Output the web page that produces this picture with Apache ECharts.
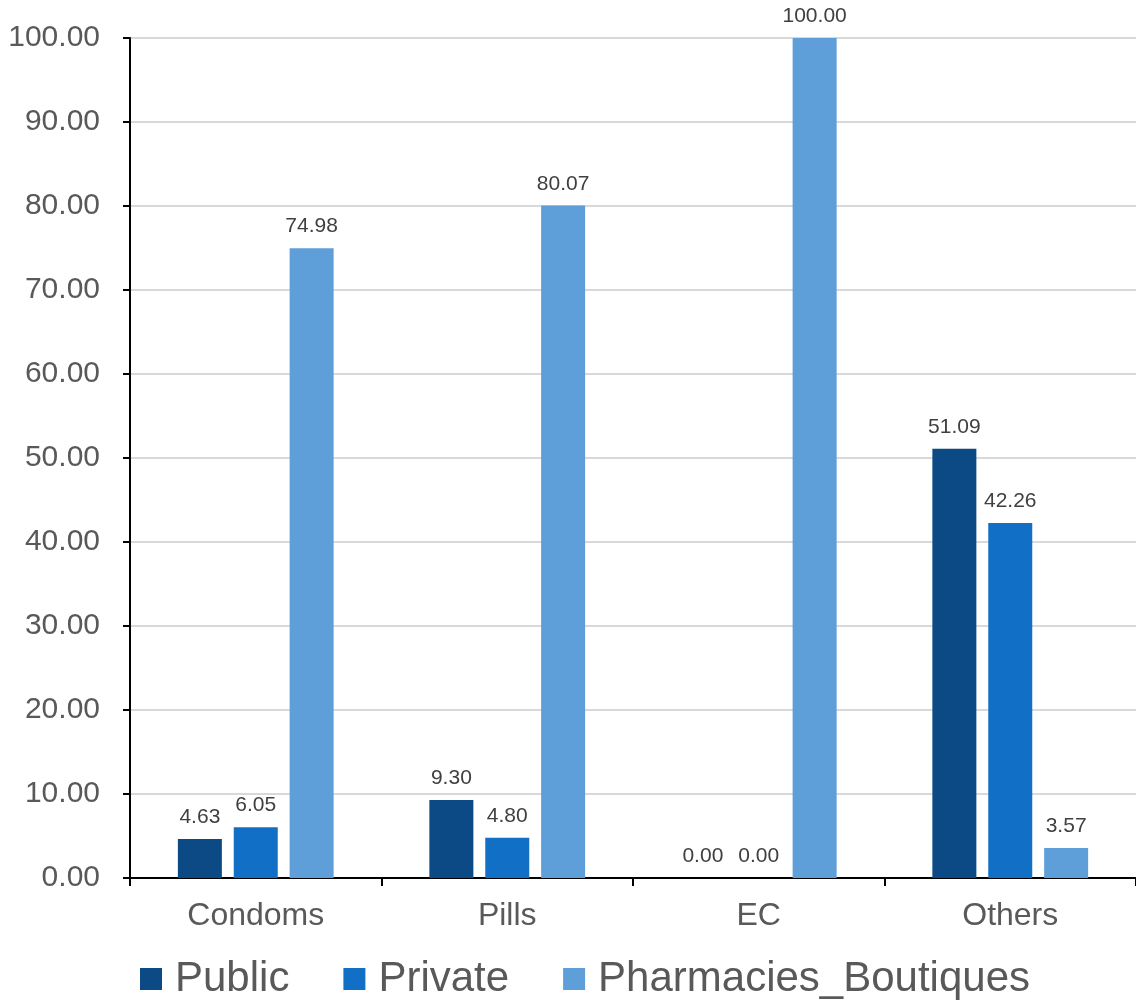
<!DOCTYPE html>
<html><head><meta charset="utf-8">
<script src="https://cdn.jsdelivr.net/npm/echarts@6/dist/echarts.min.js"></script>
<style>html,body{margin:0;padding:0;background:#fff}#c{width:1136px;height:1000px}</style>
</head><body><div id="c"></div>
<script>
const categories = ['Condoms', 'Pills', 'EC', 'Others'];
const publicVals = [4.63, 9.30, 0.00, 51.09];
const privateVals = [6.05, 4.80, 0.00, 42.26];
const pharmVals = [74.98, 80.07, 100.00, 3.57];
const seriesNames = ['Public', 'Private', 'Pharmacies_Boutiques'];
const colors = ['#0B4A84', '#1170C6', '#5E9FD9'];

const font = 'Liberation Sans, Arial, sans-serif';
const chart = echarts.init(document.getElementById('c'));
const mk = (name, data, color) => ({
  name, type: 'bar', data, barWidth: 44, barGap: '27%',
  itemStyle: { color },
  label: { show: true, position: 'top', distance: 11, color: '#404040', fontSize: 21, fontFamily: font,
    formatter: p => Number(p.value).toFixed(2) }
});
chart.setOption({
  animation: false,
  textStyle: { fontFamily: font },
  grid: { left: 130, right: 0, top: 38, bottom: 122, containLabel: false },
  legend: {
    bottom: -5, left: 135, itemWidth: 22, itemHeight: 22, itemGap: 54,
    icon: 'rect',
    textStyle: { fontSize: 42, color: '#595959', fontFamily: font, padding: [0, 0, 0, 8] },
    data: seriesNames
  },
  xAxis: {
    type: 'category', data: categories,
    axisLine: { lineStyle: { color: '#000', width: 2 } },
    axisTick: { show: true, length: 8, lineStyle: { color: '#000', width: 2 } },
    axisLabel: { fontSize: 32, color: '#595959', margin: 22, fontFamily: font }
  },
  yAxis: {
    type: 'value', min: 0, max: 100, interval: 10,
    axisLine: { show: true, lineStyle: { color: '#000', width: 2 } },
    axisTick: { show: true, length: 7, lineStyle: { color: '#000', width: 2 } },
    axisLabel: { fontSize: 30, color: '#595959', margin: 30, fontFamily: font,
      padding: [0, 0, 6, 0], formatter: v => v.toFixed(2) },
    splitLine: { lineStyle: { color: '#D9D9D9', width: 2 } }
  },
  series: [
    mk(seriesNames[0], publicVals, colors[0]),
    mk(seriesNames[1], privateVals, colors[1]),
    mk(seriesNames[2], pharmVals, colors[2])
  ]
});
</script></body></html>
